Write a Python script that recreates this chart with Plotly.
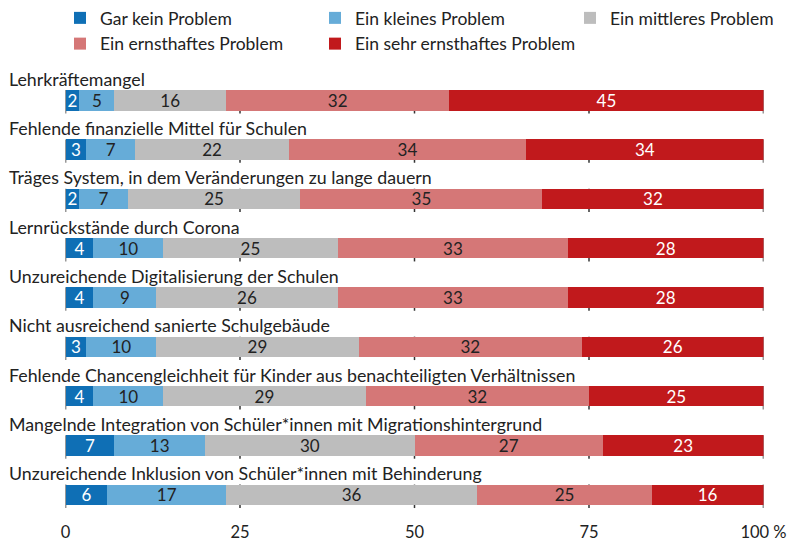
import plotly.graph_objects as go

categories = [
    "Lehrkräftemangel",
    "Fehlende finanzielle Mittel für Schulen",
    "Träges System, in dem Veränderungen zu lange dauern",
    "Lernrückstände durch Corona",
    "Unzureichende Digitalisierung der Schulen",
    "Nicht ausreichend sanierte Schulgebäude",
    "Fehlende Chancengleichheit für Kinder aus benachteiligten Verhältnissen",
    "Mangelnde Integration von Schüler*innen mit Migrationshintergrund",
    "Unzureichende Inklusion von Schüler*innen mit Behinderung",
]
series_names = ["Gar kein Problem", "Ein kleines Problem", "Ein mittleres Problem",
                "Ein ernsthaftes Problem", "Ein sehr ernsthaftes Problem"]
gar_kein = [2, 3, 2, 4, 4, 3, 4, 7, 6]
kleines = [5, 7, 7, 10, 9, 10, 10, 13, 17]
mittleres = [16, 22, 25, 25, 26, 29, 29, 30, 36]
ernsthaft = [32, 34, 35, 33, 33, 32, 32, 27, 25]
sehr = [45, 34, 32, 28, 28, 26, 25, 23, 16]
tick_vals = [0, 25, 50, 75, 100]
tick_text = ["0", "25", "50", "75", "100 %"]

colors = ["#0f6fb5", "#66acd8", "#bdbdbd", "#d57777", "#c1191c"]
text_colors = ["white", "#222222", "#222222", "#222222", "white"]
legend_widths = [210, 210, 176, 210, 210]
FONT = "Lato"
W, H = 792, 539

rows = list(range(len(categories)))
fig = go.Figure()
for name, vals, col, tcol, lw in zip(series_names,
                                     [gar_kein, kleines, mittleres, ernsthaft, sehr],
                                     colors, text_colors, legend_widths):
    fig.add_trace(go.Bar(
        y=rows, x=vals, name=name, orientation="h",
        marker=dict(color=col, line=dict(width=0)),
        text=[str(v) for v in vals], textposition="inside", insidetextanchor="middle",
        textangle=0, insidetextfont=dict(color=tcol, size=17, family=FONT),
        width=0.415, hoverinfo="skip", legendwidth=lw,
    ))

for i, cat in enumerate(categories):
    fig.add_annotation(x=7 / W, xref="paper", y=i - 0.44, yref="y", text=cat,
                       showarrow=False, xanchor="left", yanchor="middle",
                       font=dict(size=17.8, color="#222222", family=FONT))
    for t in tick_vals:
        fig.add_shape(type="line", xref="x", yref="y", x0=t, x1=t,
                      y0=i - 0.2075, y1=i + 0.2075 + 0.06, layer="below",
                      line=dict(color="#333333", width=1.5))

fig.update_layout(
    width=W, height=H,
    margin=dict(l=0, r=0, t=0, b=0),
    barmode="stack", barnorm="percent",
    plot_bgcolor="white", paper_bgcolor="white",
    font=dict(family=FONT, size=17, color="#222222"),
    uniformtext=dict(minsize=17, mode="show"),
    showlegend=True,
    legend=dict(orientation="h", x=60 / W, xanchor="left", y=1.0, yanchor="top",
                entrywidth=210, font=dict(size=17.5, family=FONT, color="#222222"),
                traceorder="normal", itemclick=False, bgcolor="rgba(0,0,0,0)"),
    xaxis=dict(domain=[65.5 / W, 763.5 / W], range=[0, 100], tickvals=tick_vals,
               ticktext=tick_text, showgrid=False, zeroline=False, showline=False,
               ticks="", fixedrange=True, automargin=False,
               tickfont=dict(size=16.5, family=FONT, color="#222222")),
    yaxis=dict(domain=[1 - 520 / H, 1 - 50.97 / H], range=[8.51, -1], showgrid=False,
               zeroline=False, showline=False, showticklabels=False, ticks="",
               fixedrange=True, automargin=False),
)

fig.write_html("out.html", config={"displayModeBar": False, "staticPlot": True},
               post_script="document.body.style.margin='0';document.body.style.overflow='hidden';")
